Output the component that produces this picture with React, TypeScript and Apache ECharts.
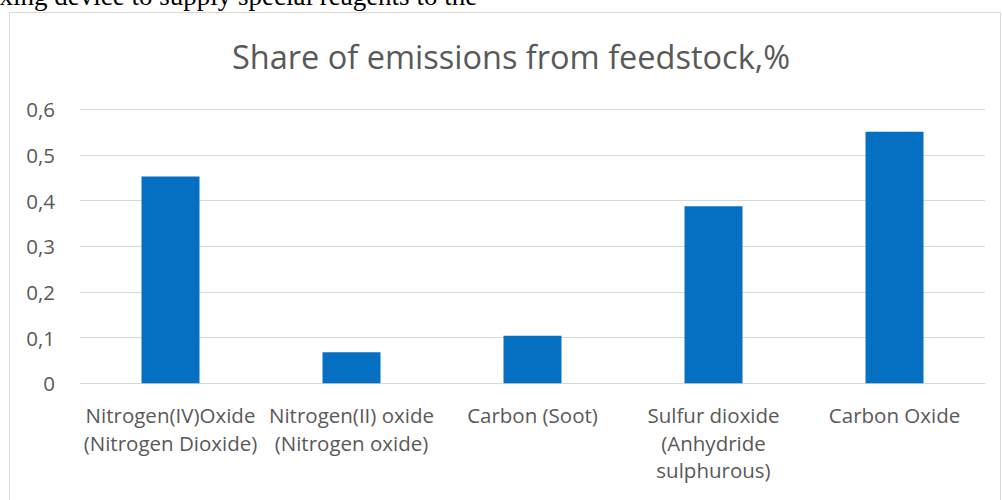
import React, { useEffect, useRef } from "react";
import * as echarts from "echarts";

const title = "Share of emissions from feedstock,%";
const pageText = "mixing device to supply special reagents to the";
const categories = [
  "Nitrogen(IV)Oxide\n(Nitrogen Dioxide)",
  "Nitrogen(II) oxide\n(Nitrogen oxide)",
  "Carbon (Soot)",
  "Sulfur dioxide\n(Anhydride\nsulphurous)",
  "Carbon Oxide",
];
const values = [0.453, 0.068, 0.104, 0.388, 0.551];
const yTicks = { min: 0, max: 0.6, interval: 0.1 };

export default function App() {
  const ref = useRef<HTMLDivElement>(null);
  useEffect(() => {
    if (!ref.current) return;
    const chart = echarts.init(ref.current, null, { renderer: "svg" });
    const font = "'Open Sans', sans-serif";
    chart.setOption({
      animation: false,
      backgroundColor: "#ffffff",
      graphic: [
        {
          type: "text",
          left: -29,
          top: -18,
          style: {
            text: pageText,
            font: "27px 'Liberation Serif', serif",
            fill: "#000000",
          },
        },
        {
          type: "rect",
          shape: { x: 9.5, y: 12.5, width: 991, height: 495 },
          style: { fill: "none", stroke: "#d9d9d9", lineWidth: 1 },
          z: -1,
        },
      ],
      title: {
        text: title,
        left: 506,
        top: 35,
        textAlign: "center",
        textStyle: {
          fontFamily: font,
          fontSize: 32.5,
          fontWeight: "normal",
          color: "#595959",
        },
      },
      grid: { left: 80, right: 17, top: 109.4, bottom: 116.7 },
      xAxis: {
        type: "category",
        data: categories,
        axisTick: { show: false },
        axisLine: { lineStyle: { color: "#d9d9d9", width: 1 } },
        axisLabel: {
          interval: 0,
          margin: 18,
          fontFamily: font,
          fontSize: 20.5,
          lineHeight: 27.5,
          color: "#595959",
        },
      },
      yAxis: {
        type: "value",
        min: yTicks.min,
        max: yTicks.max,
        interval: yTicks.interval,
        axisLine: { show: false },
        axisTick: { show: false },
        splitLine: { lineStyle: { color: "#d9d9d9", width: 1 } },
        axisLabel: {
          margin: 25,
          fontFamily: font,
          fontSize: 20.5,
          color: "#595959",
          formatter: (v: number) => (v === 0 ? "0" : v.toFixed(1).replace(".", ",")),
        },
      },
      series: [
        {
          type: "bar",
          data: values,
          barWidth: 58,
          itemStyle: { color: "#0570c1" },
        },
      ],
    });
    return () => chart.dispose();
  }, []);
  return (
    <div
      ref={ref}
      style={{ position: "fixed", left: 0, top: 0, width: 1002, height: 500 }}
    />
  );
}
